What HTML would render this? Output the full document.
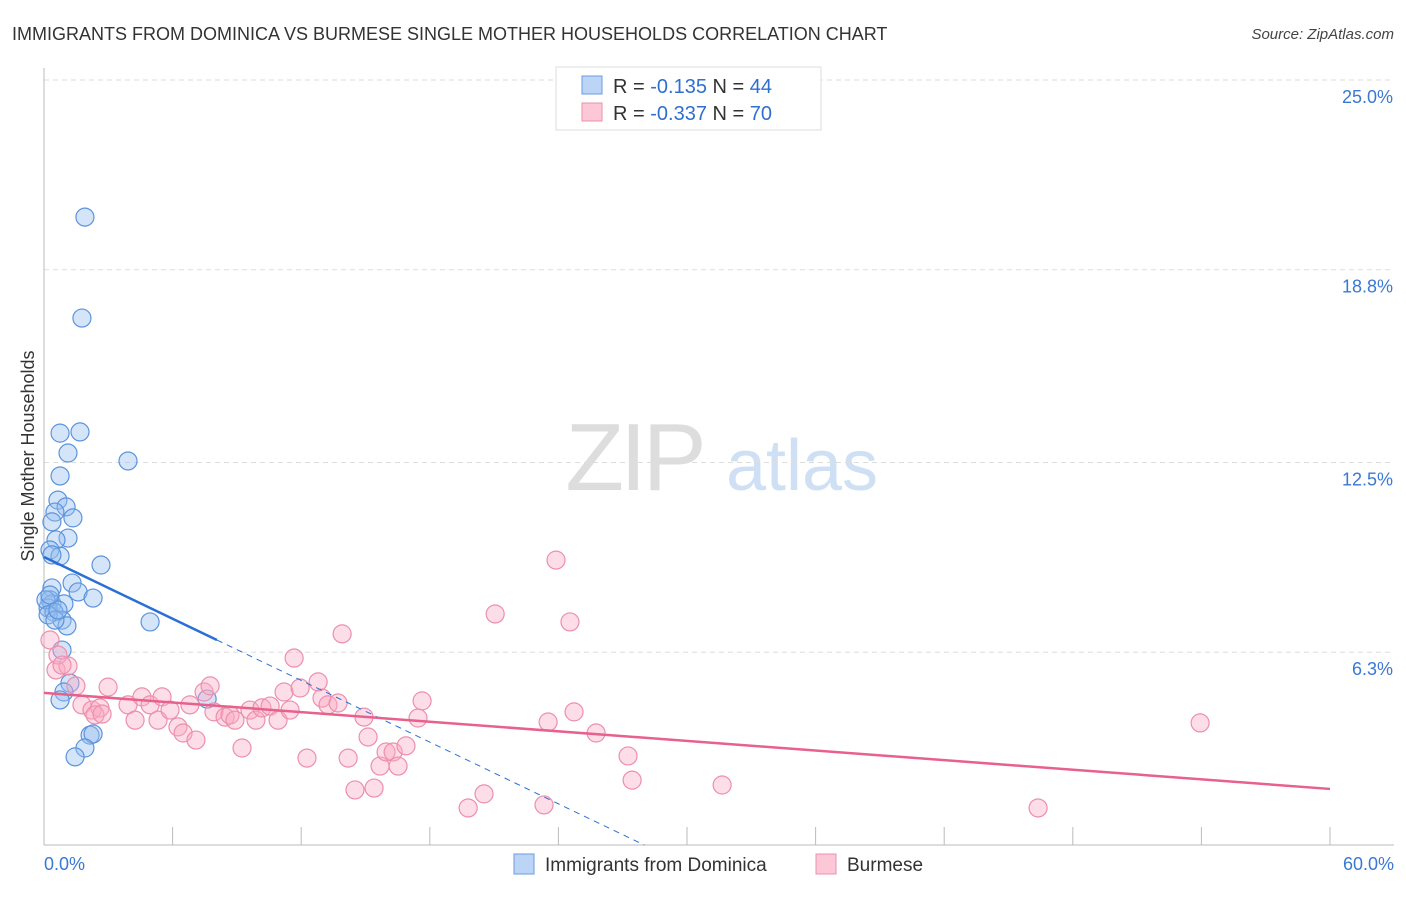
<!DOCTYPE html>
<html><head><meta charset="utf-8"><style>
body{margin:0;background:#fff;font-family:"Liberation Sans",sans-serif;}
svg text{font-family:"Liberation Sans",sans-serif;}
</style></head><body>
<svg id="chart" width="1406" height="892" viewBox="0 0 1406 892" xmlns="http://www.w3.org/2000/svg">
<text x="12" y="40" font-size="18" fill="#333">IMMIGRANTS FROM DOMINICA VS BURMESE SINGLE MOTHER HOUSEHOLDS CORRELATION CHART</text>
<text x="1394" y="39" font-size="15" fill="#444" text-anchor="end" font-style="italic">Source: ZipAtlas.com</text>
<g>
<text x="634" y="490" font-size="96" fill="#ddd" text-anchor="middle" font-family="Liberation Serif" letter-spacing="-4">ZIP</text>
<text x="802" y="490" font-size="72" fill="#cfe0f5" text-anchor="middle">atlas</text>
</g>
<g id="grid"></g>
<g id="axes"></g>
<text transform="translate(34,456) rotate(-90)" font-size="18" fill="#333" text-anchor="middle">Single Mother Households</text>
<g id="marks"></g>
<g>
<rect x="556" y="67" width="265" height="63" fill="#fff" stroke="#ddd"/>
<rect x="582" y="76" width="20" height="18" fill="#bcd4f5" stroke="#6a9be0"/>
<rect x="582" y="103" width="20" height="18" fill="#fcc8d8" stroke="#ec8fad"/>
<text x="613" y="93" font-size="20" fill="#333">R = <tspan fill="#2f6fd1">-0.135</tspan>   N = <tspan fill="#2f6fd1">44</tspan></text>
<text x="613" y="120" font-size="20" fill="#333">R = <tspan fill="#2f6fd1">-0.337</tspan>   N = <tspan fill="#2f6fd1">70</tspan></text>
</g>
<g>
<rect x="514" y="854" width="20" height="20" fill="#bcd4f5" stroke="#6a9be0"/>
<text x="545" y="871" font-size="19" fill="#333">Immigrants from Dominica</text>
<rect x="816" y="854" width="20" height="20" fill="#fcc8d8" stroke="#ec8fad"/>
<text x="847" y="871" font-size="19" fill="#333">Burmese</text>
</g>
</svg>
<script>
const blueX=[1.91,1.77,0.75,1.68,1.12,3.92,0.75,0.65,1.03,0.51,1.35,0.37,1.12,0.56,0.28,0.75,0.37,2.66,1.31,0.37,1.59,2.29,0.28,0.37,0.93,0.19,0.47,0.84,1.07,4.95,0.84,1.21,0.93,0.75,7.61,2.15,2.29,1.91,1.45,0.09,0.19,0.51,0.65,0.28];
const blueY=[20.52,17.22,13.46,13.50,12.81,12.55,12.06,11.27,11.05,10.88,10.69,10.56,10.03,9.97,9.64,9.44,9.48,9.15,8.56,8.40,8.27,8.07,8.01,7.88,7.88,7.75,7.61,7.35,7.16,7.29,6.37,5.29,5.00,4.74,4.77,3.59,3.63,3.17,2.88,8.01,7.52,7.35,7.68,8.17];
const pinkX=[0.28,0.56,1.12,1.49,1.77,2.24,2.61,2.99,2.38,2.71,3.92,4.25,4.57,4.95,5.32,5.51,5.88,6.25,6.49,7.09,6.81,7.47,7.75,7.93,8.45,8.68,8.91,9.24,9.61,9.89,10.17,10.55,10.92,11.20,11.48,11.67,11.95,12.27,12.79,12.97,13.25,13.72,13.91,14.19,14.51,14.93,15.12,15.40,15.68,15.96,16.29,16.52,16.89,17.45,17.64,19.79,20.53,21.05,23.33,23.52,23.89,24.54,24.73,25.76,27.25,27.44,31.64,46.38,53.94,0.65,0.84];
const pinkY=[6.70,5.72,5.85,5.20,4.58,4.41,4.48,5.16,4.25,4.28,4.58,4.08,4.84,4.58,4.08,4.84,4.41,3.86,3.66,3.43,4.58,5.00,5.20,4.35,4.18,4.25,4.08,3.17,4.41,4.08,4.48,4.54,4.08,5.00,4.41,6.11,5.13,2.84,5.33,4.80,4.58,4.64,6.90,2.84,1.80,4.18,3.53,1.86,2.58,3.04,3.04,2.58,3.24,4.15,4.71,1.21,1.67,7.55,1.31,4.02,9.31,7.29,4.35,3.66,2.91,2.12,1.96,1.21,3.99,6.21,5.88];
const yTicks=[6.3,12.5,18.8,25.0];
const yTickLabels=["6.3%","12.5%","18.8%","25.0%"];
const xTickCount=10;
const blueTrend=[9.41,-0.336];
const pinkTrend=[4.97,-0.0523];

const NS="http://www.w3.org/2000/svg";
const X0=44,X1=1330,Y0=845,Y25=80;
const sx=v=>X0+(v/60)*(X1-X0);
const sy=v=>Y0-(v/25)*(Y0-Y25);
function mk(tag,attrs,parent){const e=document.createElementNS(NS,tag);for(const k in attrs)e.setAttribute(k,attrs[k]);parent.appendChild(e);return e;}
const grid=document.getElementById('grid'),axes=document.getElementById('axes'),marks=document.getElementById('marks');
yTicks.forEach((t,i)=>{
  const l=mk('line',{x1:X0,x2:1394,y1:sy(t),y2:sy(t),stroke:'#ddd','stroke-dasharray':'5,4'},grid);
  
  
  const tx=mk('text',{x:1393,y:sy(t)+23,'font-size':18,fill:'#3a78d4','text-anchor':'end'},axes);
  tx.textContent=yTickLabels[i];
  
  
});
mk('line',{x1:X0,x2:X0,y1:68,y2:Y0,stroke:'#bbb'},axes);
mk('line',{x1:X0,x2:1394,y1:Y0,y2:Y0,stroke:'#bbb'},axes);
for(let i=0;i<=xTickCount;i++){const x=sx(i*6);mk('line',{x1:x,x2:x,y1:Y0-18,y2:Y0,stroke:'#bbb'},axes);}
const xl=mk('text',{x:44,y:870,'font-size':18,fill:'#3a78d4'},axes);xl.textContent='0.0%';


const xr=mk('text',{x:1394,y:870,'font-size':18,fill:'#3a78d4','text-anchor':'end'},axes);xr.textContent='60.0%';



blueX.forEach((v,i)=>{
  const c=mk('circle',{cx:sx(v),cy:sy(blueY[i]),r:9,fill:'rgba(150,190,240,0.4)',stroke:'#5b93dd','stroke-width':1.2},marks);
  
  
});
pinkX.forEach((v,i)=>{
  const c=mk('circle',{cx:sx(v),cy:sy(pinkY[i]),r:9,fill:'rgba(250,170,195,0.4)',stroke:'#ec8fad','stroke-width':1.2},marks);
  
  
});
const bEnd=8.07, bZero=-blueTrend[0]/blueTrend[1];
const bl=mk('line',{x1:sx(0),y1:sy(blueTrend[0]),x2:sx(bEnd),y2:sy(blueTrend[0]+blueTrend[1]*bEnd),stroke:'#2a6fd6','stroke-width':2.5},marks);


const bd=mk('line',{x1:sx(bEnd),y1:sy(blueTrend[0]+blueTrend[1]*bEnd),x2:sx(bZero),y2:sy(0),stroke:'#2a6fd6','stroke-width':1,'stroke-dasharray':'6,5'},marks);


const pl=mk('line',{x1:sx(0),y1:sy(pinkTrend[0]),x2:sx(60),y2:sy(pinkTrend[0]+pinkTrend[1]*60),stroke:'#e8608c','stroke-width':2.5},marks);


</script>
</body></html>
